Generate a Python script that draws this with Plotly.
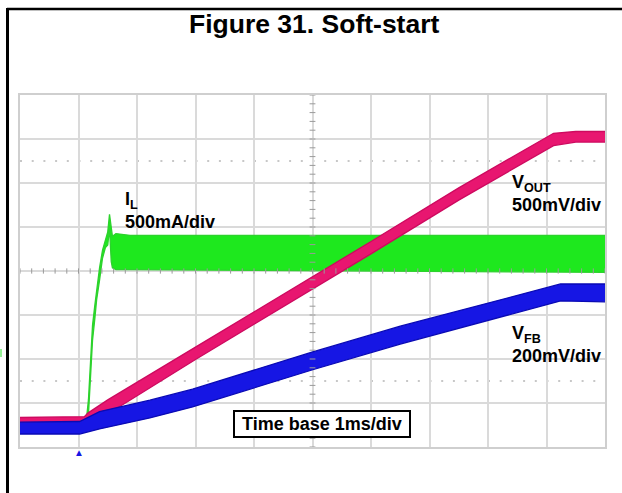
import plotly.graph_objects as go

# ---------------- data (read from the scope capture) ----------------
# time in ms (time base 1 ms/div, trigger at 0 ms)
TRIGGER_T = 0.0

# V_OUT (V), 500 mV/div : noisy band, upper/lower envelope
vout_t  = [-1.0, 0.10, 0.16, 0.50, 2.00, 3.50, 5.00, 6.50, 8.12, 8.50, 9.00]
vout_hi = [0.05, 0.06, 0.10, 0.25, 0.85, 1.45, 2.05, 2.66, 3.28, 3.30, 3.30]
vout_lo = [-0.04, -0.04, -0.02, 0.09, 0.71, 1.31, 1.91, 2.52, 3.14, 3.18, 3.18]

# V_FB (V), 200 mV/div
vfb_t  = [-1.0, 0.02, 0.36, 1.22, 1.95, 3.99, 5.50, 8.24, 9.00]
vfb_hi = [0.027, 0.030, 0.075, 0.127, 0.177, 0.345, 0.463, 0.655, 0.655]
vfb_lo = [-0.027, -0.027, -0.004, 0.046, 0.096, 0.264, 0.382, 0.578, 0.574]

# I_L (A), 500 mA/div
il_t  = [-1.0, 0.12, 0.17, 0.21, 0.24, 0.28, 0.31, 0.36, 0.41, 0.46, 0.50, 0.53, 0.56, 0.58, 0.64, 0.88, 9.00]
il_hi = [0.02, 0.02, 0.34, 0.79, 1.19, 1.42, 1.59, 1.84, 2.04, 2.16, 2.25, 2.45, 2.29, 2.20, 2.23, 2.21, 2.21]
il_lo = [-0.025, -0.025, 0.17, 0.62, 1.02, 1.27, 1.48, 1.70, 1.95, 2.07, 2.10, 2.29, 1.91, 1.84, 1.82, 1.82, 1.79]

# channel settings: (units per division, ground level in divisions from screen centre)
VOUT_SCALE, VOUT_GND = 0.5, -3.43
VFB_SCALE,  VFB_GND  = 0.2, -3.57
IL_SCALE,   IL_GND   = 0.5, -3.61

GREEN, GREEN_EDGE = "rgb(30,232,30)", "rgb(45,210,45)"
PINK, PINK_EDGE = "rgb(232,22,112)", "rgb(205,10,95)"
BLUE, BLUE_EDGE = "rgb(22,22,228)", "rgb(10,10,180)"

# ---------------- layout geometry ----------------
W, H = 622, 493
PL, PR, PT, PB = 20, 605, 95, 447


def px_x(px):
    return (px - PL) / (PR - PL)


def px_y(py):
    return (PB - py) / (PB - PT)


def to_div(vals, scale, gnd):
    return [v / scale + gnd for v in vals]


fig = go.Figure()


def band(t, hi, lo, scale, gnd, color, edge, name):
    fig.add_trace(go.Scatter(x=t, y=to_div(hi, scale, gnd), mode="lines",
                             line=dict(color=edge, width=1.3), hoverinfo="skip",
                             showlegend=False, name=name))
    fig.add_trace(go.Scatter(x=t, y=to_div(lo, scale, gnd), mode="lines",
                             line=dict(color=edge, width=1.3), fill="tonexty",
                             fillcolor=color, hoverinfo="skip", showlegend=False,
                             name=name))


band(il_t, il_hi, il_lo, IL_SCALE, IL_GND, GREEN, GREEN_EDGE, "IL")
band(vout_t, vout_hi, vout_lo, VOUT_SCALE, VOUT_GND, PINK, PINK_EDGE, "VOUT")
band(vfb_t, vfb_hi, vfb_lo, VFB_SCALE, VFB_GND, BLUE, BLUE_EDGE, "VFB")

# graticule tick marks on the centre lines
tx, ty = [], []
for i in range(51):
    x = -1 + i * 0.2
    tx += [x, x, None]
    ty += [-0.06, 0.06, None]
for i in range(41):
    y = -4 + i * 0.2
    tx += [3.95, 4.05, None]
    ty += [y, y, None]
fig.add_trace(go.Scatter(x=tx, y=ty, mode="lines", line=dict(color="#9a9a9a", width=1),
                         hoverinfo="skip", showlegend=False))

shapes = []
# dotted cursor lines
for yy in (2.5, -2.5):
    shapes.append(dict(type="line", xref="x", yref="y", x0=-1, x1=9, y0=yy, y1=yy,
                       line=dict(color="#b5b5b5", width=1.5, dash="2px,9.7px"), layer="below"))
# frame lines of the page
shapes.append(dict(type="line", xref="paper", yref="paper", x0=px_x(7), x1=px_x(622),
                   y0=px_y(9), y1=px_y(9), line=dict(color="black", width=2.5)))
shapes.append(dict(type="line", xref="paper", yref="paper", x0=px_x(7.5), x1=px_x(7.5),
                   y0=px_y(8), y1=px_y(493), line=dict(color="black", width=3)))
# small green artifact at the left edge
shapes.append(dict(type="rect", xref="paper", yref="paper", x0=px_x(0), x1=px_x(2),
                   y0=px_y(357), y1=px_y(349), line=dict(width=0), fillcolor="rgb(150,240,150)"))
# time-base box
shapes.append(dict(type="rect", xref="paper", yref="paper", x0=px_x(234), x1=px_x(410),
                   y0=px_y(437), y1=px_y(411), line=dict(color="black", width=2),
                   fillcolor="white"))

FONT = "Arial, Liberation Sans, sans-serif"


def label(px, py, text, size, anchor="left"):
    return dict(xref="paper", yref="paper", x=px_x(px), y=px_y(py), text=text,
                showarrow=False, xanchor=anchor, yanchor="middle", align="left",
                font=dict(family=FONT, size=size, color="black", weight="bold"))


annotations = [
    label(314, 24, "Figure 31. Soft-start", 26.5, "center"),
    label(123, 210, "I<sub>L</sub><br>500mA/div", 18),
    label(510, 193, "V<sub>OUT</sub><br>500mV/div", 18),
    label(510, 344, "V<sub>FB</sub><br>200mV/div", 18),
    label(322, 424, "Time base 1ms/div", 18, "center"),
    # trigger position marker below the graticule
    dict(xref="x", yref="paper", x=TRIGGER_T, y=px_y(452), text="\u25b2", showarrow=False,
         xanchor="center", yanchor="middle", font=dict(family=FONT, size=10, color=BLUE)),
]

fig.update_layout(
    width=W, height=H,
    margin=dict(l=PL, r=W - PR, t=PT, b=H - PB, pad=0),
    paper_bgcolor="white", plot_bgcolor="white",
    shapes=shapes, annotations=annotations,
    showlegend=False,
    xaxis=dict(range=[-1, 9], tick0=-1, dtick=1, showgrid=True, gridcolor="#dadada",
               gridwidth=1.5, zeroline=False, showticklabels=False, ticks="",
               showline=True, mirror=True, linecolor="#cfcfcf", linewidth=2, fixedrange=True),
    yaxis=dict(range=[-4, 4], tick0=-4, dtick=1, showgrid=True, gridcolor="#dadada",
               gridwidth=1.5, zeroline=False, showticklabels=False, ticks="",
               showline=True, mirror=True, linecolor="#cfcfcf", linewidth=2, fixedrange=True),
)

fig.write_html("out.html", config={"displayModeBar": False},
               post_script="document.body.style.margin='0px';")
